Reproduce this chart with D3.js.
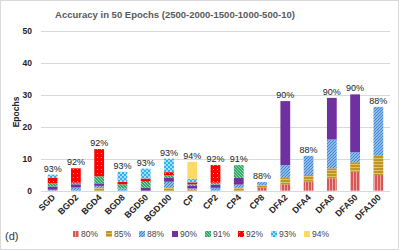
<!DOCTYPE html>
<html>
<head>
<meta charset="utf-8">
<script src="https://cdn.jsdelivr.net/npm/d3@7"></script>
<style>
  body { margin: 0; background: #fff; }
  text { font-family: "Liberation Sans", Arial, sans-serif; }
</style>
</head>
<body>
<div id="chart"></div>
<script>
var methods = ['SGD','BGD2','BGD4','BGD8','BGD50','BGD100','CP','CP2','CP4','CP8','DFA2','DFA4','DFA8','DFA50','DFA100']
var levels = ['80%','85%','88%','90%','91%','92%','93%','94%']
// epochs spent in each accuracy band (stacked bottom to top)
var acc80 = [0,0,0,0,0,0,0,0,0,1,2,2.8,3.9,5.9,4.9]
var acc85 = [0,0,0.8,0,0,0.9,0.3,0,0.9,0.8,2,2.1,3.1,3,6]
var acc88 = [0.3,1,0.7,0.75,0,1.9,0.4,0.9,1,0.9,4,6,9,3.1,15.3]
var acc90 = [1,1,0.8,0,0.9,1.2,0.8,1,2.1,0,20,0,13,18.1,0]
var acc91 = [1,0.5,2.2,1.25,1.9,0.8,0.5,0.6,4,0,0,0,0,0,0]
var acc92 = [1.7,4.5,8.5,0.8,1,1,0.6,5.5,0,0,0,0,0,0,0]
var acc93 = [1,0,0,3.1,3.1,4.2,1.1,0,0,0,0,0,0,0,0]
var acc94 = [0,0,0,0,0,0,5.3,0,0,0,0,0,0,0,0]
var topLabels = ['93%','92%','92%','93%','93%','93%','94%','92%','91%','88%','90%','88%','90%','90%','88%']
var yTicks = [0,10,20,30,40,50]

var series = [acc80,acc85,acc88,acc90,acc91,acc92,acc93,acc94]
var rows = methods.map(function(m, i) {
	var r = {method: m}
	levels.forEach(function(l, j) { r[l] = series[j][i] })
	return r
})

var W = 399, H = 250
var svg = d3.select('#chart').append('svg').attr('width', W).attr('height', H)

// patterns for each band
var defs = svg.append('defs')
function pat(id, w, h, bg, draw) {
	var p = defs.append('pattern').attr('id', id).attr('patternUnits', 'userSpaceOnUse')
		.attr('width', w).attr('height', h)
	p.append('rect').attr('width', w).attr('height', h).attr('fill', bg)
	draw(p)
}
pat('p80', 3, 3, '#d65858', function(p) {
	p.append('rect').attr('x', 2).attr('width', 1).attr('height', 3).attr('fill', '#f0a5a5')
})
pat('p85', 3, 3, '#bf9528', function(p) {
	p.append('rect').attr('y', 2).attr('width', 3).attr('height', 1).attr('fill', '#e0c165')
})
pat('p88', 3, 3, '#cfe3f7', function(p) {
	p.append('path').attr('d', 'M0,3 L3,0 M-1,1 L1,-1 M2,4 L4,2').attr('stroke', '#3f88d6').attr('stroke-width', 1.3)
})
pat('p91', 3, 3, '#34a865', function(p) {
	p.append('path').attr('d', 'M0,0 L3,3 M-1,2 L1,4 M2,-1 L4,1').attr('stroke', '#a8e0bf').attr('stroke-width', 0.8)
})
pat('p92', 4, 4, '#ff0000', function(p) {
	p.append('rect').attr('x', 1).attr('y', 1).attr('width', 1).attr('height', 1).attr('fill', '#ff9a9a')
})
pat('p93', 4, 4, '#27b4ee', function(p) {
	p.append('rect').attr('x', 0).attr('y', 0).attr('width', 2).attr('height', 2).attr('fill', '#a5defa')
	p.append('rect').attr('x', 2).attr('y', 2).attr('width', 2).attr('height', 2).attr('fill', '#a5defa')
})
var fills = {'80%':'url(#p80)','85%':'url(#p85)','88%':'url(#p88)','90%':'#7030a0',
	'91%':'url(#p91)','92%':'url(#p92)','93%':'url(#p93)','94%':'#ffd966'}

// frame
svg.append('rect').attr('x', 0.5).attr('y', 0.5).attr('width', W - 1).attr('height', H - 1)
	.attr('fill', 'none').attr('stroke', '#d9d9d9')

var x = d3.scaleBand().domain(methods).range([41, 390]).paddingInner(0.58).paddingOuter(0.29)
var y = d3.scaleLinear().domain([0, 50]).range([190.7, 30.7])

// grid
svg.append('g').selectAll('line').data(yTicks).join('line')
	.attr('x1', 41).attr('x2', 390)
	.attr('y1', function(d) { return Math.round(y(d)) + 0.5 })
	.attr('y2', function(d) { return Math.round(y(d)) + 0.5 })
	.attr('stroke', '#d9d9d9').attr('stroke-width', 1)

var yAxis = svg.append('g').attr('transform', 'translate(41,0)')
	.call(d3.axisLeft(y).tickValues(yTicks).tickSize(0).tickPadding(9))
yAxis.select('.domain').remove()
yAxis.selectAll('text').attr('font-size', 8.5).attr('font-weight', 'bold').attr('fill', '#222')

svg.append('text').attr('transform', 'translate(19,112) rotate(-90)')
	.attr('text-anchor', 'middle').attr('font-size', 8.5).attr('font-weight', 'bold').attr('fill', '#222')
	.text('Epochs')

// bars
var stacked = d3.stack().keys(levels)(rows)
svg.append('g').selectAll('g').data(stacked).join('g')
	.attr('fill', function(d) { return fills[d.key] })
	.selectAll('rect').data(function(d) { return d }).join('rect')
	.attr('x', function(d) { return x(d.data.method) })
	.attr('width', x.bandwidth())
	.attr('y', function(d) { return y(d[1]) })
	.attr('height', function(d) { return y(d[0]) - y(d[1]) })

// totals labels
var totals = rows.map(function(r) { return d3.sum(levels, function(l) { return r[l] }) })
svg.append('g').selectAll('text').data(methods).join('text')
	.attr('x', function(d) { return x(d) + x.bandwidth() / 2 })
	.attr('y', function(d, i) { return y(totals[i]) - 3 })
	.attr('text-anchor', 'middle').attr('font-size', 9).attr('fill', '#222')
	.text(function(d, i) { return topLabels[i] })

// x labels
svg.append('g').selectAll('text').data(methods).join('text')
	.attr('transform', function(d) { return 'translate(' + (x(d) + x.bandwidth() / 2 + 3) + ',198) rotate(-45)' })
	.attr('text-anchor', 'end').attr('font-size', 8.8).attr('font-weight', 'bold').attr('fill', '#222')
	.text(function(d) { return d })

// title
svg.append('text').attr('x', 175).attr('y', 18).attr('text-anchor', 'middle')
	.attr('font-size', 9.5).attr('font-weight', 'bold').attr('fill', '#595959')
	.text('Accuracy in 50 Epochs (2500-2000-1500-1000-500-10)')

svg.append('text').attr('x', 5).attr('y', 240).attr('font-size', 11).attr('fill', '#333').text('(d)')

// legend
var leg = svg.append('g').selectAll('g').data(levels).join('g')
	.attr('transform', function(d, i) { return 'translate(' + (73 + i * 33) + ',231)' })
leg.append('rect').attr('width', 6).attr('height', 6).attr('fill', function(d) { return fills[d] })
leg.append('text').attr('x', 8).attr('y', 6).attr('font-size', 8.5).attr('fill', '#444').text(function(d) { return d })
</script>
</body>
</html>
